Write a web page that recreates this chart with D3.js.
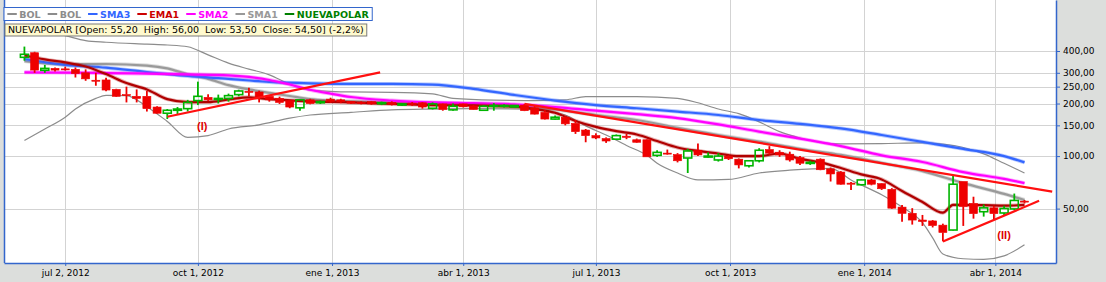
<!DOCTYPE html>
<html>
<head>
<meta charset="utf-8">
<script src="https://cdn.jsdelivr.net/npm/d3@7"></script>
<style>
  body { margin: 0; background: #dcdedc; }
  svg { display: block; }
  text { font-family: "DejaVu Sans", Verdana, sans-serif; }
</style>
</head>
<body>
<div id="chart"></div>
<script>
// weekly candles, one per week starting on this monday
const ticker = "NUEVAPOLAR";
const firstWeek = "2012-06-04";

const open = [368,391,310,318,316,314,300,272,273,241,
  225,220,220,191,176,183,187,208,217,211,
  214,225,235,233,220,214,208,189,210,202,
  212,210,206,203,205,200,203,196,201,202,
  188,199,184,199,194,183,193,193,191,196,
  189,178,163,167,154,141,131,126,125,130,
  124,124,101,104,102,97.5,108,99,95,100,
  96,88,94,109,105,102.5,98,91,96,84.5,
  81,70,68.5,73,69.5,64.5,51,47,43,42.5,
  40.2,37.7,71.5,53.5,48,50.5,47.2,49.8,55.2];
const high = [424,396,333,322,325,322,314,300,281,243,
  250,241,236,193,186,191,210,267,226,225,
  228,240,246,237,224,219,210,212,213,208,
  216,213,207,206,207,205,206,201,204,204,
  203,200,200,200,196,196,201,198,196,199,
  196,183,171,169,161,143,135,128,133,134,
  126,125,108,109,104,110,118,105,104,101,
  97,95,111,114,108,106,100,94,97,86,
  82,71,73.5,74,70,65.5,52.5,50.3,46,43,
  41,77,71.5,58.5,52.8,52,52,61,56];
const low = [352,300,300,305,309,282,270,253,235,218,
  203,203,180,175,163,173,180,196,207,200,
  205,220,220,203,205,199,188,182,198,199,
  202,201,199,198,197,196,195,194,194,187,
  185,182,182,190,184,182,182,190,190,181,
  173,162,162,150,134,120,125,119,124,125,
  119,99,99,102,92,80,100,98,93,95,
  85,86,92,102,99,93,89,89,83,71.5,
  68.5,64,68,68,64,49.8,42,40.5,39.8,39,
  32.5,37.5,39.8,43.8,45,43,45.5,49,53.5];
const close = [383,311,318,311,314,297,277,269,239,220,
  222,214,187,176,183,186,203,220,210,214,
  222,236,232,217,210,203,191,210,200,205,
  206,205,201,201,199,202,198,199,198,191,
  199,185,193,192,185,193,195,195,195,182,
  174,163,167,153,138,131,127,122,131,128,
  120,99,105,103,94,107,101.5,100,100,96.5,
  89,94,108,104,101.5,95,91,92,83.5,79,
  69,69,73,69,65,50.3,47,43,42.2,40,
  36.5,69,51.5,46.8,50.5,46.8,50.1,55.7,54.5];

// indicators as [week index, value]
const bolUpper = [[0,560],[2,520],[4,490],[6,459],[8,449],[12,438],[14,433],[16,423],[18,380],[20,341],
  [22,315],[24,292],[26,258],[28,239],[30,235],[32,233],[36,232],[40,227],[42,214],[46,209],
  [50,208],[53,210],[55,219],[60,219],[64,214],[66,202],[68,186],[70,175],[72,157],[74,138],
  [76,127],[78,120],[80,117.5],[84,118],[88,119],[90,117],[92,112],[94,103],[96,91],[98,80]];
const bolLower = [[0,123],[2,143],[4,167],[5,186],[7,214],[8,223],[10,222],[12,192],[14,158],[16,128],
  [18,131],[20,143],[23,151],[26,165],[28,172],[32,178],[36,184],[40,186],[44,187],[49,186],
  [51,182],[53,172],[55,149],[57,132],[59,115],[61,101],[62,91],[64,80],[66,73],[69,73.5],
  [72,80],[75,83],[79,85],[81,73],[84,60],[86,51],[88,41.5],[89,34],[90,27.5],[92,25.8],
  [94,25.6],[96,26.8],[98,31]];
const sma1 = [[0,350],[4,335],[8,337],[12,330],[14,318],[16,294],[18,277],[20,255],[22,241],[24,230],
  [26,221],[28,212],[30,208],[32,206],[36,203],[40,201],[44,198],[48,194],[52,185],[56,172],
  [60,161],[64,145],[68,132],[72,121],[76,110],[80,101.5],[84,91.4],[88,82],[92,70],[96,60.7],[98,56]];
const sma2 = [[0,302],[4,301],[8,299],[12,297],[16,294],[20,290],[22,284],[24,273],[26,257],[28,240],
  [30,228],[32,218],[36,208],[40,203],[44,201],[48,198],[52,191],[56,182],[60,174],[64,165],
  [68,152],[72,138],[76,126],[80,114],[84,101],[88,92.5],[92,81],[96,74],[98,70]];
const sma3 = [[0,360],[4,333],[8,321],[12,303],[16,288],[20,277],[24,266],[28,261],[32,259],[36,259],
  [40,257],[44,243],[48,224],[52,208],[56,196],[60,188],[64,180],[68,172],[72,161],[76,153],
  [80,144],[84,132],[88,120.5],[92,110],[96,100],[98,92]];
const ema1 = [[0,377],[2,358],[4,344],[6,326],[8,295],[10,262],[12,241],[14,212],[16,204],[18,204],
  [20,211],[22,217],[24,212],[28,206],[32,203],[36,199],[40,196],[44,195],[48,192],[50,186],
  [52,177],[54,159],[56,147],[58,139],[60,133],[62,122],[64,112],[66,107],[68,103.5],[70,100],
  [72,100],[74,103.5],[76,96.3],[78,92],[80,85.5],[82,78.5],[84,73.5],[86,63.1],[88,54.6],[90,47.4],
  [91,52.5],[94,52.3],[96,52],[98,52.5]];

// hand drawn trend lines and labels
const trendLines = [
  [["2012-09-10", 168], ["2013-02-03", 302]],
  [["2013-05-13", 199], ["2014-05-10", 62.6]],
  [["2014-02-24", 32.4], ["2014-05-01", 55.4]]
];
const notes = [["2012-10-04", 149, "(I)"], ["2014-04-07", 35.3, "(II)"]];

const xTickDates = ["2012-07-02","2012-10-01","2013-01-01","2013-04-01","2013-07-01","2013-10-01","2014-01-01","2014-04-01"];
const yTickValues = [50, 100, 150, 200, 250, 300, 400];

const legendItems = [
  ["BOL", "#8c8c8c"], ["BOL", "#8c8c8c"], ["SMA3", "#3366ff"], ["EMA1", "#cc0000"],
  ["SMA2", "#ff00ff"], ["SMA1", "#999999"], [ticker, "#008000"]
];

let width = 1106, height = 282;
let plot = {left: 4, right: 1056, top: 0, bottom: 263};

let es = d3.timeFormatLocale({
  dateTime: "%x, %X", date: "%d/%m/%Y", time: "%H:%M:%S", periods: ["AM", "PM"],
  days: ["domingo","lunes","martes","miércoles","jueves","viernes","sábado"],
  shortDays: ["dom","lun","mar","mié","jue","vie","sáb"],
  months: ["enero","febrero","marzo","abril","mayo","junio","julio","agosto","septiembre","octubre","noviembre","diciembre"],
  shortMonths: ["ene","feb","mar","abr","may","jun","jul","ago","sep","oct","nov","dic"]
});
let fmtDate = es.utcFormat("%b %-d, %Y");
let num = d3.formatLocale({decimal: ",", thousands: ".", grouping: [3], currency: ["$", ""], minus: "-"});
let fmtPrice = num.format(".2f");
let fmtPct = num.format(".1f");

let start = new Date(firstWeek);
let dates = open.map((d, i) => d3.utcMonday.offset(start, i));
let candles = open.map((o, i) => ({date: dates[i], o: o, h: high[i], l: low[i], c: close[i]}));

let x = d3.scaleUtc()
  .domain([new Date("2012-05-21"), new Date("2014-05-12T14:24:00Z")])
  .range([plot.left, plot.right]);
let y = d3.scaleLog().domain([24.4, 784]).range([plot.bottom, plot.top]);

let svg = d3.select("#chart").append("svg")
  .attr("width", width)
  .attr("height", height);

svg.append("rect").attr("width", width).attr("height", height).attr("fill", "#dcdedc");
svg.append("rect")
  .attr("x", plot.left).attr("y", plot.top)
  .attr("width", plot.right - plot.left).attr("height", plot.bottom - plot.top)
  .attr("fill", "#fff");

svg.append("clipPath").attr("id", "clip")
  .append("rect")
  .attr("x", plot.left).attr("y", plot.top)
  .attr("width", plot.right - plot.left).attr("height", plot.bottom - plot.top);

// grid
let grid = svg.append("g").attr("stroke", "#d3d3d3").attr("stroke-width", 1);
grid.selectAll(".vx").data(xTickDates).enter().append("line")
  .attr("x1", d => Math.round(x(new Date(d))) + 0.5).attr("x2", d => Math.round(x(new Date(d))) + 0.5)
  .attr("y1", plot.top).attr("y2", plot.bottom);
grid.selectAll(".hy").data(yTickValues).enter().append("line")
  .attr("y1", d => Math.round(y(d)) + 0.5).attr("y2", d => Math.round(y(d)) + 0.5)
  .attr("x1", plot.left).attr("x2", plot.right);

let chart = svg.append("g").attr("clip-path", "url(#clip)");

let line = d3.line()
  .x(d => x(dates[d[0]]))
  .y(d => y(d[1]))
  .curve(d3.curveMonotoneX);

function drawLine(data, color, w, op) {
  chart.append("path")
    .datum(data)
    .attr("fill", "none")
    .attr("stroke", color)
    .attr("stroke-width", w)
    .attr("stroke-opacity", op)
    .attr("stroke-linejoin", "round")
    .attr("d", line);
}

drawLine(bolUpper, "#8c8c8c", 1.2, 1);
drawLine(bolLower, "#8c8c8c", 1.2, 1);
drawLine(sma1, "#9a9a9a", 4, 0.35);
drawLine(sma1, "#9a9a9a", 2.2, 1);
drawLine(sma3, "#3366ff", 4, 0.35);
drawLine(sma3, "#3366ff", 2.2, 1);
drawLine(sma2, "#ff00ff", 4, 0.35);
drawLine(sma2, "#ff00ff", 2.2, 1);
drawLine(ema1, "#b00000", 4, 0.3);
drawLine(ema1, "#b00000", 2.2, 1);

// candles
let bw = 8;
let cg = chart.selectAll(".candle").data(candles).enter().append("g")
  .attr("class", "candle")
  .attr("stroke", d => d.c >= d.o ? "#00b400" : "#ee0000");

cg.append("line")
  .attr("x1", d => x(d.date)).attr("x2", d => x(d.date))
  .attr("y1", d => y(d.h)).attr("y2", d => y(Math.max(d.o, d.c)))
  .attr("stroke-width", 1.8);
cg.append("line")
  .attr("x1", d => x(d.date)).attr("x2", d => x(d.date))
  .attr("y1", d => y(Math.min(d.o, d.c))).attr("y2", d => y(d.l))
  .attr("stroke-width", 1.8);
cg.append("rect")
  .attr("x", d => x(d.date) - bw / 2)
  .attr("width", bw)
  .attr("y", d => y(Math.max(d.o, d.c)))
  .attr("height", d => Math.max(1, y(Math.min(d.o, d.c)) - y(Math.max(d.o, d.c))))
  .attr("fill", d => d.c >= d.o ? "none" : "#ee0000")
  .attr("stroke-width", d => d.c >= d.o ? 1.6 : 0.6);

// trend lines
chart.selectAll(".trend").data(trendLines).enter().append("line")
  .attr("x1", d => x(new Date(d[0][0]))).attr("y1", d => y(d[0][1]))
  .attr("x2", d => x(new Date(d[1][0]))).attr("y2", d => y(d[1][1]))
  .attr("stroke", "#ff1010")
  .attr("stroke-width", 2.2);

chart.selectAll(".note").data(notes).enter().append("text")
  .attr("x", d => x(new Date(d[0])))
  .attr("y", d => y(d[1]))
  .attr("dy", "0.35em")
  .attr("text-anchor", "middle")
  .style("font-family", "'Liberation Sans', Arial, sans-serif")
  .style("font-weight", "bold")
  .style("font-size", "11px")
  .attr("fill", "#e00000")
  .text(d => d[2]);

// axes
let yAxis = svg.append("g")
  .attr("transform", "translate(" + plot.right + ",0)")
  .call(d3.axisRight(y).tickValues(yTickValues).tickFormat(fmtPrice).tickSize(4).tickSizeOuter(0).tickPadding(3));
let xAxis = svg.append("g")
  .attr("transform", "translate(0," + plot.bottom + ")")
  .call(d3.axisBottom(x).tickValues(xTickDates.map(d => new Date(d))).tickFormat(fmtDate).tickSize(3).tickSizeOuter(0).tickPadding(4));

[xAxis, yAxis].forEach(a => {
  a.attr("font-family", null).attr("font-size", null);
  a.selectAll("text").style("font-size", "9px").attr("fill", "#000");
  a.select(".domain").attr("stroke", "#3366cc").attr("stroke-width", 1.5);
  a.selectAll(".tick line").attr("stroke", "#3366cc");
});

svg.append("line")
  .attr("x1", plot.left + 0.5).attr("x2", plot.left + 0.5)
  .attr("y1", plot.top).attr("y2", plot.bottom)
  .attr("stroke", "#3366cc").attr("stroke-width", 1.5);

// legend
let legend = svg.append("g").attr("transform", "translate(4,7.5)");
let legendBox = legend.append("rect")
  .attr("height", 13)
  .attr("fill", "#fff")
  .attr("stroke", "#3366cc");
let lx = 3.3;
legendItems.forEach(item => {
  legend.append("line")
    .attr("x1", lx).attr("x2", lx + 9.5)
    .attr("y1", 6.5).attr("y2", 6.5)
    .attr("stroke", item[1]).attr("stroke-width", 2);
  let t = legend.append("text")
    .attr("x", lx + 12).attr("y", 10)
    .style("font-size", "9.5px")
    .style("font-weight", "bold")
    .attr("fill", item[1])
    .text(item[0]);
  lx += 12 + t.node().getComputedTextLength() + 7;
});
legendBox.attr("width", lx - 3.5);

// last candle info
let last = candles[candles.length - 1];
let prev = candles[candles.length - 2];
let info = ticker + " [Open: " + fmtPrice(last.o) + "  High: " + fmtPrice(last.h) +
  "  Low: " + fmtPrice(last.l) + "  Close: " + fmtPrice(last.c) + "] (" +
  fmtPct((last.c / prev.c - 1) * 100) + "%)";
let infoG = svg.append("g").attr("transform", "translate(5,24)");
let infoBox = infoG.append("rect")
  .attr("height", 12)
  .attr("fill", "#ffface")
  .attr("stroke", "#7a7a7a");
let infoText = infoG.append("text")
  .attr("x", 3).attr("y", 9.3)
  .style("font-size", "9.5px")
  .style("white-space", "pre")
  .attr("fill", "#000")
  .text(info);
infoBox.attr("width", infoText.node().getComputedTextLength() + 6);
</script>
</body>
</html>
